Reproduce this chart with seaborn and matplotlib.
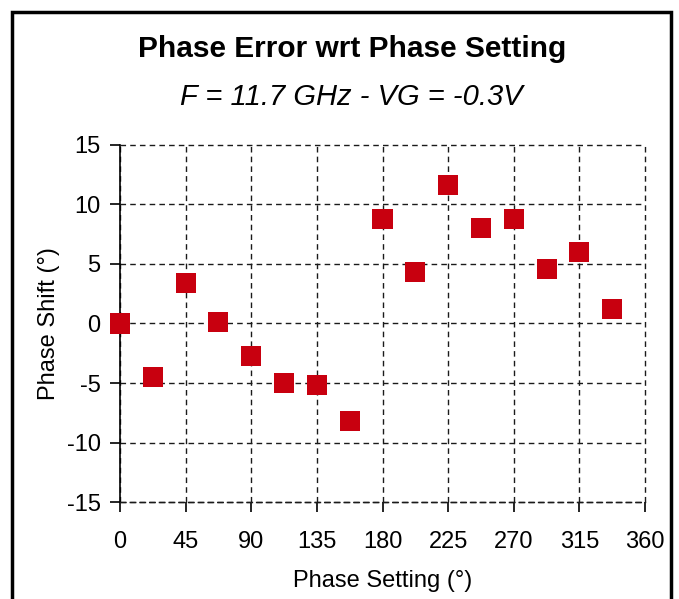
import numpy as np
import pandas as pd
import matplotlib
matplotlib.use("Agg")
import matplotlib.pyplot as plt
import seaborn as sns
from matplotlib.patches import Rectangle

# ==================== DATA ====================

phase_setting = [0, 22.5, 45, 67.5, 90, 112.5, 135, 157.5,
                 180, 202.5, 225, 247.5, 270, 292.5, 315, 337.5]
phase_shift = [0.0, -4.5, 3.4, 0.1, -2.7, -5.0, -5.2, -8.2,
               8.8, 4.3, 11.6, 8.0, 8.8, 4.6, 6.0, 1.2]
x_ticks = [0, 45, 90, 135, 180, 225, 270, 315, 360]
y_ticks = [-15, -10, -5, 0, 5, 10, 15]

df = pd.DataFrame({"setting": phase_setting, "shift": phase_shift})

# ==================== PLOT ====================

sns.set_style("white")
plt.rcParams['font.family'] = ['Liberation Sans', 'DejaVu Sans']
plt.rcParams['axes.unicode_minus'] = False
plt.rcParams['text.color'] = 'black'
plt.rcParams['axes.labelcolor'] = 'black'
plt.rcParams['xtick.color'] = 'black'
plt.rcParams['ytick.color'] = 'black'

fig = plt.figure(figsize=(6.79, 5.99), dpi=100)
ax = fig.add_axes([0.1767, 0.1619, 0.9500 - 0.1767, 0.758 - 0.1619])

ax.set_xlim(0, 360)
ax.set_ylim(-15, 15)
ax.set_xticks(x_ticks)
ax.set_yticks(y_ticks)

ax.grid(True, linestyle=(0, (4, 3)), color='#1a1a1a', linewidth=1.0)
ax.set_axisbelow(True)
for gl in ax.get_xgridlines() + ax.get_ygridlines():
    gl.set_clip_on(False)

sns.scatterplot(data=df, x="setting", y="shift", marker='s', s=210,
                color='#C8000F', edgecolor='none', ax=ax, zorder=3,
                clip_on=False)

for side in ['top', 'right']:
    ax.spines[side].set_visible(False)
ax.spines['left'].set_color('black')
ax.spines['left'].set_linewidth(1.2)
ax.spines['bottom'].set_color('#1a1a1a')
ax.spines['bottom'].set_linewidth(1.0)
ax.spines['bottom'].set_linestyle((0, (4, 3)))

ax.tick_params(axis='both', direction='out', length=7.5, width=1.2,
               color='black', labelsize=17, left=True, bottom=True)
ax.tick_params(axis='x', pad=13.5)
ax.tick_params(axis='y', pad=6.5)

ax.set_xlabel("Phase Setting (°)", fontsize=17, labelpad=12)
ax.set_ylabel("Phase Shift (°)", fontsize=17, labelpad=4.5)

fig.text(0.518, 0.918, "Phase Error wrt Phase Setting", ha='center',
         va='center', fontsize=21.5, fontweight='bold')
fig.text(0.518, 0.838, "F = 11.7 GHz - VG = -0.3V", ha='center',
         va='center', fontsize=21, style='italic')

# frame around the figure (bottom edge is cut off in the original)
frame = Rectangle((11.5 / 679, -0.05), (671 - 11.5) / 679, 1.05 - 11.5 / 599,
                  transform=fig.transFigure, fill=False, edgecolor='black',
                  linewidth=2.5, clip_on=False)
fig.patches.append(frame)

fig.savefig("out.png", dpi=100)
